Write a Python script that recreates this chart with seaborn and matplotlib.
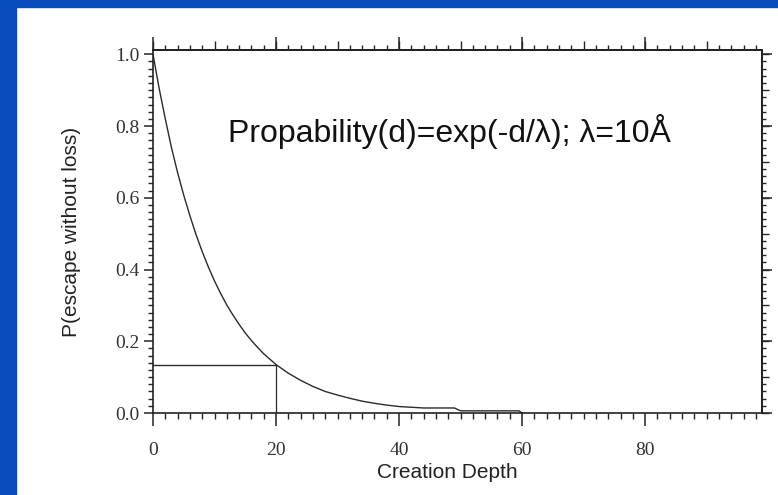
import matplotlib
matplotlib.use('Agg')
import matplotlib.pyplot as plt
import seaborn as sns
import pandas as pd
from matplotlib.patches import Rectangle
from matplotlib.ticker import MultipleLocator, NullFormatter

# curve values
depth = [0, 1, 2, 3, 4, 5, 6, 7, 8, 9, 10, 11, 12, 13, 14, 15, 16, 17, 18, 19, 20,
         22, 24, 26, 28, 30, 32, 34, 36, 38, 40, 42, 44, 49, 50, 59.5, 60]
prob = [1.0, 0.905, 0.82, 0.74, 0.67, 0.607, 0.55, 0.497, 0.45, 0.407, 0.368, 0.333,
        0.301, 0.273, 0.247, 0.223, 0.202, 0.183, 0.165, 0.15, 0.135,
        0.111, 0.091, 0.074, 0.06, 0.05, 0.041, 0.033, 0.027, 0.022, 0.018, 0.016,
        0.014, 0.014, 0.006, 0.006, 0.0]
marker_depth = 20
marker_prob = 0.135

df = pd.DataFrame({'Creation Depth': depth, 'P': prob})

sns.set_style('ticks')
serif = ['Liberation Serif', 'DejaVu Serif']
sans = ['Liberation Sans', 'DejaVu Sans']

fig = plt.figure(figsize=(7.78, 4.95), dpi=100)
blue = '#0a4cbd'
fig.patches.append(Rectangle((0, 0), 16 / 778, 1, transform=fig.transFigure, color=blue, zorder=-1))
fig.patches.append(Rectangle((0, 1 - 7 / 495), 1, 7 / 495, transform=fig.transFigure, color=blue, zorder=-1))

ax = fig.add_axes([153 / 778, (495 - 413) / 495, (762 - 153) / 778, (413 - 50) / 495])
sns.lineplot(data=df, x='Creation Depth', y='P', ax=ax, color='#2a2a2a', linewidth=1.0)

# guide lines to (20, 0.135)
ax.plot([0, marker_depth], [marker_prob, marker_prob], color='#2a2a2a', linewidth=1.0)
ax.plot([marker_depth, marker_depth], [0, marker_prob], color='#2a2a2a', linewidth=0.9)

ax.set_xlim(0, 99)
ax.set_ylim(0, 1.012)

for s in ax.spines.values():
    s.set_linewidth(1.2)
    s.set_color('#222222')

ax.xaxis.set_major_locator(MultipleLocator(20))
ax.xaxis.set_minor_locator(MultipleLocator(2))
ax.yaxis.set_major_locator(MultipleLocator(0.2))
ax.yaxis.set_minor_locator(MultipleLocator(0.02))
ax.set_yticks([0, 0.2, 0.4, 0.6, 0.8, 1.0])
ax.set_yticklabels(['0.0', '0.2', '0.4', '0.6', '0.8', '1.0'])

ax.tick_params(axis='x', which='major', direction='out', length=9, width=1.1, pad=12,
               labelsize=14, colors='#222222')
ax.tick_params(axis='x', which='minor', direction='out', length=4.3, width=1.0)
ax.tick_params(axis='y', which='major', direction='out', length=6.5, width=1.1, pad=3,
               labelsize=14, colors='#222222')
ax.tick_params(axis='y', which='minor', direction='out', length=3.6, width=1.0)
for lab in ax.get_xticklabels() + ax.get_yticklabels():
    lab.set_family(serif)
    lab.set_color('#333333')

# top ticks: tall every 20, medium every 10, small every 2
top1 = ax.secondary_xaxis('top')
top1.xaxis.set_major_locator(MultipleLocator(20))
top1.xaxis.set_major_formatter(NullFormatter())
top1.tick_params(which='major', direction='out', length=9.4, width=1.1)
top2 = ax.secondary_xaxis('top')
top2.xaxis.set_major_locator(MultipleLocator(10))
top2.xaxis.set_minor_locator(MultipleLocator(2))
top2.xaxis.set_major_formatter(NullFormatter())
top2.tick_params(which='major', direction='out', length=6.5, width=1.0)
top2.tick_params(which='minor', direction='out', length=3.6, width=1.0)

# right ticks: tall every 0.2, medium every 0.1, small every 0.02
right1 = ax.secondary_yaxis('right')
right1.yaxis.set_major_locator(MultipleLocator(0.2))
right1.yaxis.set_major_formatter(NullFormatter())
right1.tick_params(which='major', direction='out', length=7.2, width=1.1)
right2 = ax.secondary_yaxis('right')
right2.yaxis.set_major_locator(MultipleLocator(0.1))
right2.yaxis.set_minor_locator(MultipleLocator(0.02))
right2.yaxis.set_major_formatter(NullFormatter())
right2.tick_params(which='major', direction='out', length=5, width=1.0)
right2.tick_params(which='minor', direction='out', length=3.2, width=1.0)
for sec in (top1, top2, right1, right2):
    for s in sec.spines.values():
        s.set_linewidth(1.2)
        s.set_color('#222222')

ax.set_xlabel('Creation Depth', family=sans, fontsize=15, color='#222222', va='top')
ax.xaxis.set_label_coords((447 - 153) / 609, -(463 - 413) / 363)
ax.set_ylabel('P(escape without loss)', family=sans, fontsize=15, color='#222222')
ax.yaxis.set_label_coords(-(153 - 81) / 609, 0.5)

ax.text((228 - 153) / 609, (413 - 142) / 363, 'Propability(d)=exp(-d/\u03bb); \u03bb=10\u00c5',
        transform=ax.transAxes, family=sans, fontsize=23, color='#111111', va='baseline')

fig.savefig('out.png', dpi=100, facecolor='white')
